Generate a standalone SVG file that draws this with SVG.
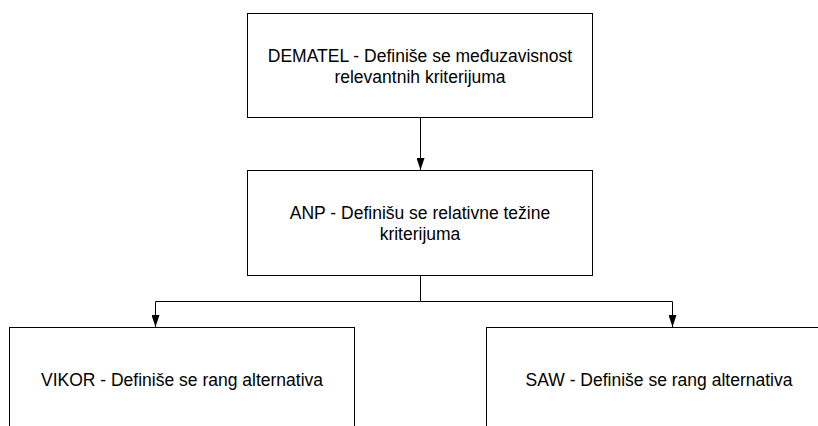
<svg xmlns="http://www.w3.org/2000/svg" width="818" height="426" viewBox="0 0 818 426">
  <style>
    .box { fill: #ffffff; stroke: #000000; stroke-width: 1; }
    .lbl { font-family: "Liberation Sans", Arial, sans-serif; font-size: 17.5px; fill: #000000; text-anchor: middle; }
    .wire { fill: none; stroke: #000000; stroke-width: 1; }
  </style>
  <defs>
    <!-- filled triangular head, tip at the path end -->
    <marker id="arrow" viewBox="0 0 12 8" refX="12" refY="4" markerWidth="12" markerHeight="8" markerUnits="userSpaceOnUse" orient="auto">
      <path d="M0,0 L12,4 L0,8 Z" fill="#000000"/>
    </marker>
  </defs>
  <rect width="818" height="426" fill="#ffffff"/>

  <g id="connectors">
    <path class="wire" d="M420.5,117.5 V170" marker-end="url(#arrow)"/>
    <path class="wire" d="M420.5,275.5 V301.5 H155.5 V327" marker-end="url(#arrow)"/>
    <path class="wire" d="M420.5,301.5 H672.5 V327" marker-end="url(#arrow)"/>
  </g>

  <g id="dematel">
    <rect class="box" x="247.5" y="13.5" width="345" height="104"/>
    <text class="lbl" x="420" y="62">DEMATEL - Definiše se međuzavisnost</text>
    <text class="lbl" x="420" y="83">relevantnih kriterijuma</text>
  </g>

  <g id="anp">
    <rect class="box" x="247.5" y="170.5" width="345" height="105"/>
    <text class="lbl" x="420" y="219">ANP - Definišu se relativne težine</text>
    <text class="lbl" x="420" y="240">kriterijuma</text>
  </g>

  <g id="vikor">
    <rect class="box" x="9.5" y="327.5" width="345" height="110"/>
    <text class="lbl" x="182" y="386">VIKOR - Definiše se rang alternativa</text>
  </g>

  <g id="saw">
    <rect class="box" x="486.5" y="327.5" width="345" height="110"/>
    <text class="lbl" x="659" y="386">SAW - Definiše se rang alternativa</text>
  </g>
</svg>
